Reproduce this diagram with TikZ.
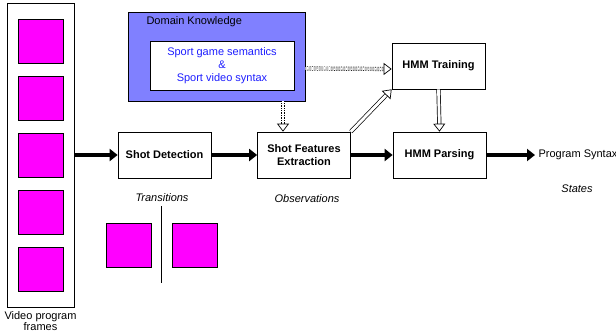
\documentclass[tikz,border=0pt]{standalone}
\usepackage{fontspec}
\setmainfont{Liberation Sans}
\usetikzlibrary{arrows.meta, calc}
\definecolor{FrameMagenta}{RGB}{255,0,255}
\definecolor{KnowBlue}{RGB}{128,128,255}
\definecolor{TextBlue}{RGB}{30,30,255}
\tikzset{
  procbox/.style={draw, rectangle, fill=white, line width=0.7pt, minimum width=93pt, minimum height=46pt, align=center, font=\fontsize{11}{13}\selectfont\bfseries},
  frame/.style={draw, rectangle, fill=FrameMagenta, line width=0.7pt, minimum width=45pt, minimum height=44pt, inner sep=0pt},
  flow/.style={line width=3.5pt, -{Triangle[length=8pt, width=12pt]}},
  hollow/.style={double, double distance=2.8pt, line width=0.7pt, -{Triangle[open, length=8pt, width=12pt]}},
  caption/.style={font=\fontsize{11}{13}\selectfont\itshape}
}
\begin{document}
\begin{tikzpicture}[x=1pt, y=-1pt, font=\fontsize{11}{13}\selectfont]
\useasboundingbox (0,0) rectangle (616,333);
% video frames
\node[draw, rectangle, line width=0.7pt, minimum width=67pt, minimum height=304pt] at (40.5,155) (frames) {};
\foreach \y in {41,98,155,212,269}
  \node[frame] at (40.5,\y) {};
\node[align=center, anchor=north, font=\fontsize{11}{11}\selectfont, inner sep=1pt] at (40.5,310) (framelbl) {Video program\\frames};
% processing chain
\node[procbox] at (164.5,155) (det) {Shot Detection};
\node[procbox] at (304,155) (feat) {Shot Features\\Extraction};
\node[procbox] at (439.5,155) (parse) {HMM Parsing};
\node[procbox] at (438.5,66) (train) {HMM Training};
\node[anchor=west] at (535,155) (syntax) {Program Syntax};
\draw[flow] (frames.east) -- (det.west);
\draw[flow] (det.east) -- (feat.west);
\draw[flow] (feat.east) -- (parse.west);
\draw[flow] (parse.east) -- (syntax.west);
% domain knowledge
\node[draw, rectangle, fill=KnowBlue, line width=0.7pt, minimum width=177pt, minimum height=89pt] at (216.5,56.5) (dk) {};
\node[anchor=west] at (143,22) (dktitle) {Domain Knowledge};
\node[draw, rectangle, fill=white, line width=0.7pt, minimum width=144pt, minimum height=49pt, align=center, text=TextBlue] at (222,65.5) (rules) {Sport game semantics\\\&\\Sport video syntax};
\coordinate (featin) at ($(feat.north)+(-21,0)$);
\coordinate (dkout) at (featin |- dk.south);
\draw[hollow, densely dotted] ($(dk.east)+(0,12)$) -- ($(train.west)+(0,3)$);
\draw[hollow, densely dotted] (dkout) -- (featin);
\draw[hollow] (feat.north east) -- (train.south west);
\draw[hollow] (train.south) -- (parse.north);
% labels
\node[caption] at (162,198) (trans) {Transitions};
\node[caption] at (307,199) (obs) {Observations};
\node[caption] at (577,189) (states) {States};
% shot boundary
\node[frame] at (128.5,245) (shota) {};
\node[frame] at (194.5,245) (shotb) {};
\draw[line width=1pt] (161,206) -- (161,283);
\end{tikzpicture}
\end{document}
